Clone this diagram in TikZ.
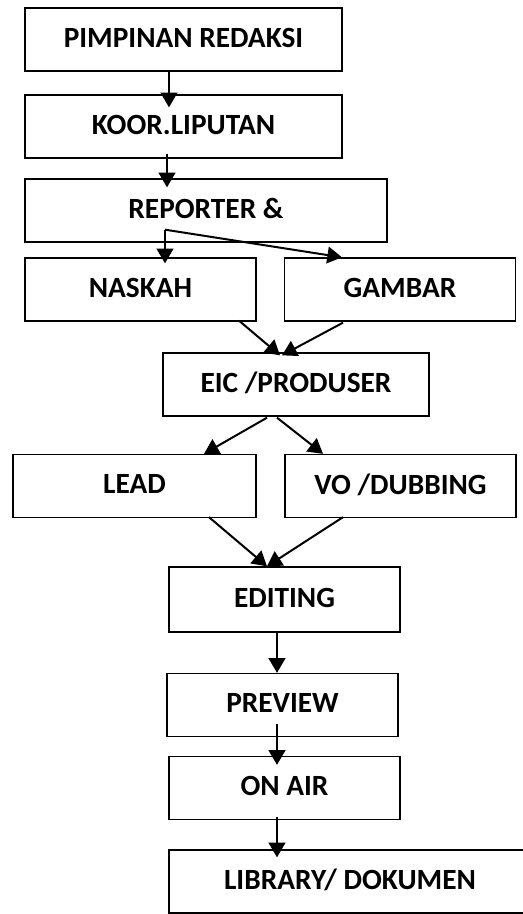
\documentclass[tikz,border=0pt]{standalone}
\usepackage{fontspec}
\setmainfont{Carlito}
\usetikzlibrary{arrows.meta,calc}

\begin{document}
\begin{tikzpicture}[x=0.75pt,y=-0.75pt,
    box/.style={draw, line width=1pt, minimum height=47.25pt, inner sep=0pt,
      text depth=3pt, font=\fontsize{22}{26}\selectfont\bfseries},
    arr/.style={-{Triangle[length=11pt,width=12.5pt]}, line width=1.5pt}]
      \useasboundingbox (0,0) rectangle (522,914);
      % boxes
      \node[box, minimum width=237.75pt] (pimpinan) at (183.5,39.5) {PIMPINAN REDAKSI};
      \node[box, minimum width=237.75pt] (koor) at (183.5,126.5) {KOOR.LIPUTAN};
      \node[box, minimum width=271.5pt] (reporter) at (206,210.5) {REPORTER \&};
      \node[box, minimum width=173.25pt] (naskah) at (140.5,289.5) {NASKAH};
      \node[box, minimum width=173.25pt] (gambar) at (400,289.5) {GAMBAR};
      \node[box, minimum width=199.5pt] (eic) at (296,384.5) {EIC /PRODUSER};
      \node[box, minimum width=182.25pt] (lead) at (134.5,486) {LEAD};
      \node[box, minimum width=173.25pt] (vo) at (400.5,486) {VO /DUBBING};
      \node[box, minimum width=173.25pt, minimum height=48.75pt] (editing) at (284.5,599.5) {EDITING};
      \node[box, minimum width=173.25pt] (preview) at (282.5,705) {PREVIEW};
      \node[box, minimum width=173.25pt] (onair) at (284.5,788) {ON AIR};
      \node[box, minimum width=271.5pt] (library) at (350,881.5) {LIBRARY/ DOKUMEN};
      % arrows
      \draw[arr] ($(pimpinan.south)+(-14.5,0)$) -- ($(koor.north)+(-14.5,13)$);
      \draw[arr] ($(koor.south)+(-16.5,-5)$) -- ($(reporter.north)+(-39,9)$);
      \coordinate (split) at ($(reporter.south)+(-41,-13)$);
      \draw[arr] (split) -- ($(naskah.north)+(24.5,6)$);
      \draw[arr] (split) -- ($(gambar.north)+(-58,0)$);
      \draw[arr] ($(naskah.south)+(98.5,-1)$) -- ($(eic.north)+(-16,3)$);
      \draw[arr] ($(gambar.south)+(-57,1)$) -- ($(eic.north)+(-14,3)$);
      \draw[arr] ($(eic.south)+(-29,1)$) -- ($(lead.north)+(69.5,0)$);
      \draw[arr] ($(eic.south)+(-19,1)$) -- ($(vo.north)+(-77.5,0)$);
      \draw[arr] ($(lead.south)+(74.5,-1)$) -- ($(editing.north)+(-17.5,0)$);
      \draw[arr] ($(vo.south)+(-57.5,-1)$) -- ($(editing.north)+(-17.5,0)$);
      \draw[arr] ($(editing.south)+(-7.5,0)$) -- ($(preview.north)+(-5.5,0)$);
      \draw[arr] ($(preview.south)+(-5.5,-13)$) -- ($(onair.north)+(-7.5,9)$);
      \draw[arr] ($(onair.south)+(-7.5,-3)$) -- ($(library.north)+(-73,8)$);
    \end{tikzpicture}
\end{document}
